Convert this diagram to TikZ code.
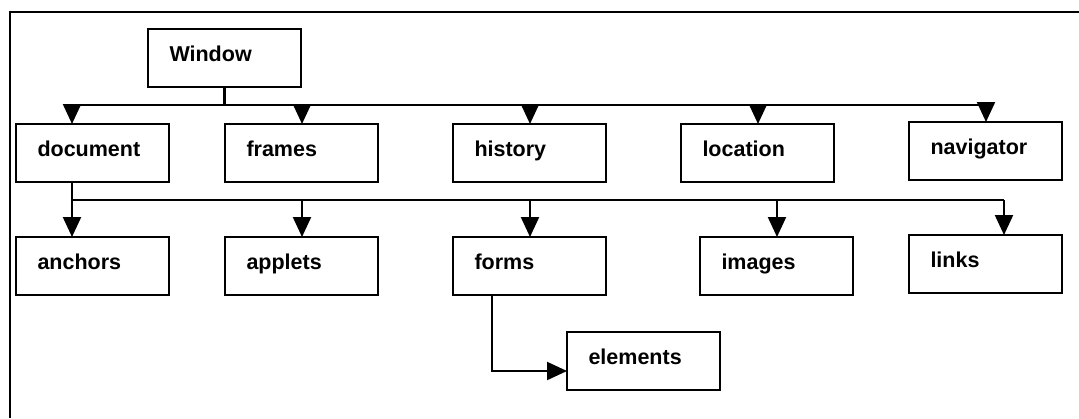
\documentclass[tikz,border=0pt]{standalone}
\usepackage{fontspec}
\setmainfont{Liberation Sans}
\usetikzlibrary{arrows.meta}
\tikzset{
  objbox/.style={draw, line width=2.3pt, inner xsep=21.5pt, inner ysep=0pt, outer sep=0pt,
    text width=110pt, align=left, text height=32pt, text depth=26pt, anchor=north west,
    font=\fontsize{21.5}{21.5}\selectfont\bfseries},
  conn/.style={line width=2.2pt},
  arr/.style={conn, -{Triangle[length=20pt,width=18pt]}},
  frameline/.style={line width=1.8pt}
}
\begin{document}
\begin{tikzpicture}[x=1pt,y=-1pt]
\useasboundingbox (0,0) rectangle (1079,418);
\draw[frameline] (10,418) -- (10,12) -- (1079,12);
% boxes
\node[objbox] (window) at (148,29) {Window};
\node[objbox] (document) at (16,124) {document};
\node[objbox] (frames) at (225,124) {frames};
\node[objbox] (history) at (453,124) {history};
\node[objbox] (location) at (681,124) {location};
\node[objbox] (navigator) at (909,122) {navigator};
\node[objbox] (anchors) at (16,237) {anchors};
\node[objbox] (applets) at (225,237) {applets};
\node[objbox] (forms) at (453,237) {forms};
\node[objbox] (images) at (700,237) {images};
\node[objbox] (links) at (909,235) {links};
\node[objbox] (elements) at (567,332) {elements};
% first bus
\coordinate (a1) at (72,105);
\coordinate (a2) at (302,105);
\coordinate (a3) at (530,105);
\coordinate (a4) at (758,105);
\coordinate (a5) at (986,105);
\draw[conn] (window.south) -- (window.south |- a1);
\draw[conn] (a1) -- (a5);
\draw[arr] (a1) -- (a1 |- document.north);
\draw[arr] (a2) -- (a2 |- frames.north);
\draw[arr] (a3) -- (a3 |- history.north);
\draw[arr] (a4) -- (a4 |- location.north);
\draw[arr] (a5) -- (a5 |- navigator.north);
% second bus
\coordinate (b1) at (72,200);
\coordinate (b2) at (302,200);
\coordinate (b3) at (530,200);
\coordinate (b4) at (777,200);
\coordinate (b5) at (1004,200);
\draw[conn] (b1 |- document.south) -- (b1) -- (b5);
\draw[arr] (b1) -- (b1 |- anchors.north);
\draw[arr] (b2) -- (b2 |- applets.north);
\draw[arr] (b3) -- (b3 |- forms.north);
\draw[arr] (b4) -- (b4 |- images.north);
\draw[arr] (b5) -- (b5 |- links.north);
% forms to elements
\coordinate (fe) at (492,371);
\draw[arr] (fe |- forms.south) -- (fe) -- (elements.west |- fe);
\end{tikzpicture}
\end{document}
